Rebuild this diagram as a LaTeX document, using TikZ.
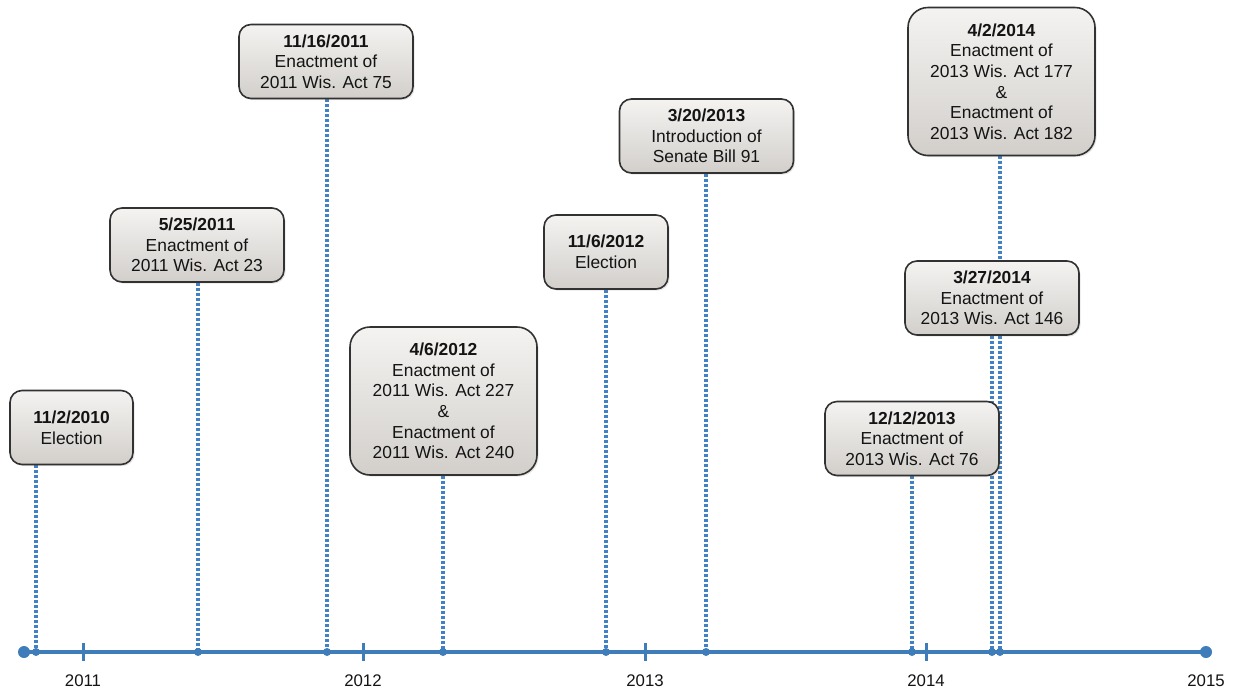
\documentclass[tikz,border=0pt]{standalone}
\usepackage{fontspec}
\setmainfont{Liberation Sans}
\usepackage{tikz}
\usetikzlibrary{positioning,shadows,calc}

\definecolor{tlblue}{RGB}{62,124,186}
\definecolor{stemblue}{RGB}{66,130,196}
\definecolor{boxline}{RGB}{50,50,50}
\definecolor{boxtop}{RGB}{244,243,241}
\definecolor{boxbot}{RGB}{210,207,203}
\definecolor{txt}{RGB}{20,20,20}

\pgfdeclarelayer{background}
\pgfsetlayers{background,main}

\begin{document}
\begin{tikzpicture}[
    x=0.5pt,
    y=-0.5pt,
    font=\fontsize{8.7}{10.3}\selectfont,
    event/.style={
        rectangle,
        draw=boxline,
        line width=0.8pt,
        rounded corners=6pt,
        top color=boxtop,
        bottom color=boxbot,
        text=txt,
        align=center,
        inner sep=0pt,
        minimum width=87pt,
        minimum height=37pt,
        drop shadow={opacity=0.2, shadow xshift=0.8pt, shadow yshift=-0.8pt}
    },
    bigevent/.style={
        event,
        rounded corners=10pt,
        minimum width=93.5pt,
        minimum height=74pt
    },
    stem/.style={stemblue, line width=1.7pt, dash pattern=on 1.4pt off 1.1pt},
    axisline/.style={tlblue, line width=1.9pt},
    tick/.style={tlblue, line width=1.5pt},
    year/.style={text=txt, font=\fontsize{8.4}{10}\selectfont}
]
    \useasboundingbox (0,0) rectangle (1238,692);

    % Event boxes
    \node[event, minimum width=61.5pt] (elect10) at (71.5,427.5) {\textbf{11/2/2010}\\Election};
    \node[event] (act23) at (197,245) {\textbf{5/25/2011}\\Enactment of\\2011 Wis. Act 23};
    \node[event] (act75) at (326,61.5) {\textbf{11/16/2011}\\Enactment of\\2011 Wis. Act 75};
    \node[bigevent] (act227) at (443.5,401) {\textbf{4/6/2012}\\Enactment of\\2011 Wis. Act 227\\\&\\Enactment of\\2011 Wis. Act 240};
    \node[event, minimum width=62pt] (elect12) at (606,252) {\textbf{11/6/2012}\\Election};
    \node[event] (sb91) at (706.5,136) {\textbf{3/20/2013}\\Introduction of\\Senate Bill 91};
    \node[event] (act76) at (912,438.5) {\textbf{12/12/2013}\\Enactment of\\2013 Wis. Act 76};
    \node[event] (act146) at (992,298) {\textbf{3/27/2014}\\Enactment of\\2013 Wis. Act 146};
    \node[bigevent] (act177) at (1001.5,81.5) {\textbf{4/2/2014}\\Enactment of\\2013 Wis. Act 177\\\&\\Enactment of\\2013 Wis. Act 182};

    % Points on the time axis
    \coordinate (start) at (24,652);
    \coordinate (end) at (1206,652);
    \coordinate (d1) at (36,652);
    \coordinate (d2) at (198,652);
    \coordinate (d3) at (327,652);
    \coordinate (d4) at (443,652);
    \coordinate (d5) at (606,652);
    \coordinate (d6) at (706,652);
    \coordinate (d7) at (912,652);
    \coordinate (d8) at (992,652);
    \coordinate (d9) at (1000,652);

    % Dotted stems
    \begin{pgfonlayer}{background}
        \draw[stem] (elect10.south -| d1) -- (d1);
        \draw[stem] (act23.south -| d2) -- (d2);
        \draw[stem] (act75.south -| d3) -- (d3);
        \draw[stem] (act227.south -| d4) -- (d4);
        \draw[stem] (elect12.south -| d5) -- (d5);
        \draw[stem] (sb91.south -| d6) -- (d6);
        \draw[stem] (act76.south -| d7) -- (d7);
        \draw[stem] (act146.south -| d8) -- (d8);
        \draw[stem] (act177.south -| d9) -- (d9);
    \end{pgfonlayer}

    % Time axis
    \draw[axisline] (start) -- (end);
    \fill[tlblue] (start) circle (3pt);
    \fill[tlblue] (end) circle (3pt);
    \foreach \p in {d1,d2,d3,d4,d5,d6,d7,d8,d9}
        \fill[tlblue] (\p) circle (2pt);

    % Years
    \draw[tick] (83,643) -- (83,661);
    \draw[tick] (363,643) -- (363,661);
    \draw[tick] (645,643) -- (645,661);
    \draw[tick] (926,643) -- (926,661);
    \node[year] (y2011) at (83,681) {2011};
    \node[year] (y2012) at (363,681) {2012};
    \node[year] (y2013) at (645,681) {2013};
    \node[year] (y2014) at (926,681) {2014};
    \node[year] (y2015) at (1206,681) {2015};
\end{tikzpicture}
\end{document}
